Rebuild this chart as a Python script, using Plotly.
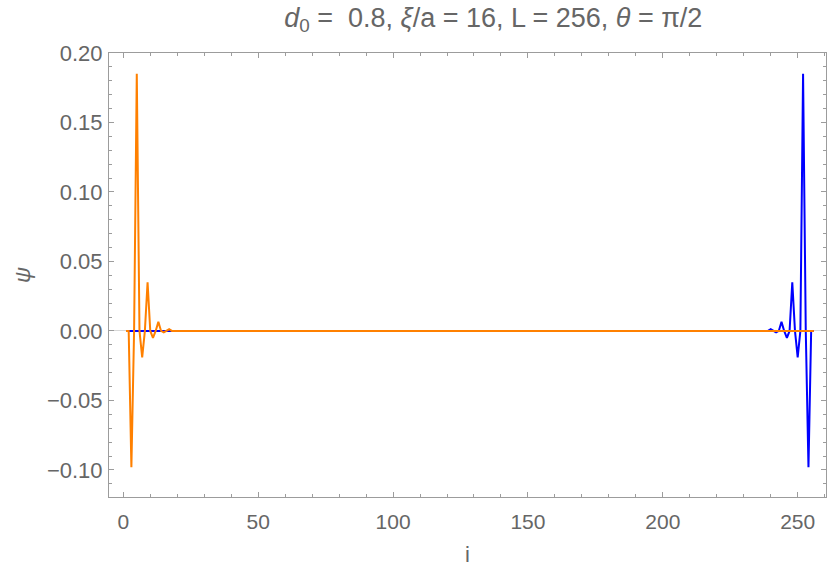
import plotly.graph_objects as go

# site index i = 1..256
sites = list(range(1, 257))

# orange mode (left edge): values for i = 1..20, the rest of the chain is ~0
orange_head = [0.0, 0.0, -0.098, 0.0, 0.185, 0.0, -0.019, 0.0, 0.035, 0.0,
               -0.005, 0.0, 0.0065, 0.0, -0.001, 0.0, 0.0012, 0.0, -0.0002, 0.0]
orange_rest = [0.0] * 236

# blue mode (right edge): the chain is ~0, values for i = 237..256
blue_rest = [0.0] * 236
blue_tail = [0.0, -0.0002, 0.0, 0.0012, 0.0, -0.001, 0.0, 0.0065, 0.0, -0.005,
             0.0, 0.035, 0.0, -0.019, 0.0, 0.185, 0.0, -0.098, 0.0, 0.0]

psi_orange = orange_head + orange_rest
psi_blue = blue_rest + blue_tail

y_ticks = [-0.10, -0.05, 0.0, 0.05, 0.10, 0.15, 0.20]
x_ticks = [0, 50, 100, 150, 200, 250]

txt = "#666666"
frame = "#9c9c9c"
font = "Liberation Sans, Arial, sans-serif"

fig = go.Figure()
fig.add_trace(go.Scatter(x=sites, y=psi_blue, mode="lines",
                         line=dict(color="#0000ff", width=2)))
fig.add_trace(go.Scatter(x=sites, y=psi_orange, mode="lines",
                         line=dict(color="#ff8000", width=2)))

fig.update_layout(
    width=830, height=576,
    margin=dict(l=109, r=4, t=53, b=79),
    plot_bgcolor="white", paper_bgcolor="white",
    showlegend=False,
    font=dict(family=font, size=21, color=txt),
    title=dict(text="<i>d</i><sub>0</sub> =  0.8, <i>ξ</i>/a = 16, L = 256, <i>θ</i> = π/2",
               x=0.536, xref="paper", xanchor="center", y=0.97, yanchor="middle",
               font=dict(size=27, color=txt)),
)

fig.update_xaxes(
    range=[-5.3, 260.5], tickvals=x_ticks, automargin=False,
    showgrid=False, zeroline=False,
    showline=True, linecolor=frame, linewidth=1, mirror="ticks",
    ticks="inside", ticklen=5, tickcolor=frame, tickwidth=1,
    minor=dict(ticks="inside", ticklen=3, dtick=10, tickcolor=frame, showgrid=False),
    ticklabelstandoff=6,
    tickfont=dict(size=21, color=txt),
    title=dict(text="i", font=dict(size=22, color=txt), standoff=14),
)
fig.update_yaxes(
    range=[-0.1195, 0.2], tickvals=y_ticks, tickformat=".2f", automargin=False,
    showgrid=False,
    zeroline=True, zerolinecolor="#d8d8d8", zerolinewidth=1,
    showline=True, linecolor=frame, linewidth=1, mirror="ticks",
    ticks="inside", ticklen=5, tickcolor=frame, tickwidth=1,
    minor=dict(ticks="inside", ticklen=3, dtick=0.01, tickcolor=frame, showgrid=False),
    ticklabelstandoff=1,
    tickfont=dict(size=22, color=txt),
    title=dict(text="<i>ψ</i>", font=dict(size=22, color=txt), standoff=10),
)

# drop the default page margin so the figure sits at the window's corner
fig.write_html("out.html", config={"displayModeBar": False},
               post_script="document.body.style.margin='0px';")
